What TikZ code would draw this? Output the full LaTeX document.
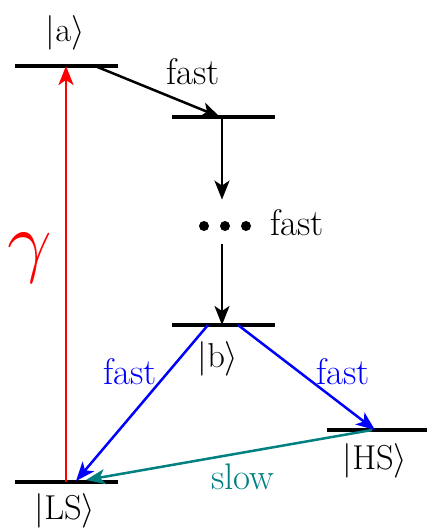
\documentclass[tikz,border=0pt]{standalone}
\usepackage{amsmath}
\usepackage{graphicx}
\usetikzlibrary{arrows.meta, positioning}
\definecolor{slowteal}{RGB}{0,128,128}
\tikzset{
  level/.style={line width=2pt},
  arr/.style={-{Stealth[length=9.5pt, width=7.5pt, inset=2.5pt]}, line width=1.25pt},
  lbl/.style={font=\fontsize{18.5}{22}\selectfont, inner sep=1pt},
  dot/.style={circle, fill, inner sep=0pt, minimum size=5pt},
}
\begin{document}
\begin{tikzpicture}[x=0.5pt, y=-0.5pt]
  \useasboundingbox (0,0) rectangle (427,530);
  % energy levels
  \draw[level] (15,66) -- (118,66);
  \draw[level] (172,117) -- (275,117);
  \draw[level] (172,325) -- (275,325);
  \draw[level] (327,430) -- (427,430);
  \draw[level] (15,482) -- (118,482);
  % arrow end points
  \coordinate (aL) at (95,66);
  \coordinate (aG) at (66,66);
  \coordinate (c1) at (220,117);
  \coordinate (c1d) at (222,117);
  \coordinate (bT) at (222,325);
  \coordinate (bL) at (208,325);
  \coordinate (bR) at (238,325);
  \coordinate (hs) at (375,430);
  \coordinate (hsL) at (372,430);
  \coordinate (ls) at (76,481);
  \coordinate (lsR) at (86,480);
  \coordinate (lsG) at (66,482);
  % labels
  \node[lbl] (ka) at (65,33) {$|\mathrm{a}\rangle$};
  \node[lbl] (kb) at (218,359) {$|\mathrm{b}\rangle$};
  \node[lbl] (khs) at (375,461) {$|\mathrm{HS}\rangle$};
  \node[lbl] (kls) at (65,511) {$|\mathrm{LS}\rangle$};
  \node[lbl] (f1) at (193,72) {fast};
  \node[lbl] (f2) at (297,223) {fast};
  \node[lbl, text=blue] (f3) at (130,372) {fast};
  \node[lbl, text=blue] (f4) at (343,372) {fast};
  \node[lbl, text=slowteal] (sl) at (243,477) {slow};
  \node[text=red, inner sep=0pt, font=\LARGE] (gam) at (30,258) {\scalebox{2.3}{$\gamma$}};
  % ladder of fast steps
  \node[minimum width=60pt, minimum height=22pt, inner sep=0pt] (dots) at (225,222) {};
  \node[dot] at (204,226) {};
  \node[dot] at (225,226) {};
  \node[dot] at (246,226) {};
  % transitions
  \draw[arr] (aL) -- (c1);
  \draw[arr] (c1d) -- (dots.north -| c1d);
  \draw[arr] (dots.south -| c1d) -- (bT);
  \draw[arr, blue] (bL) -- (ls);
  \draw[arr, blue] (bR) -- (hs);
  \draw[arr, slowteal] (hsL) -- (lsR);
  \draw[arr, red] (lsG) -- (aG);
\end{tikzpicture}
\end{document}
